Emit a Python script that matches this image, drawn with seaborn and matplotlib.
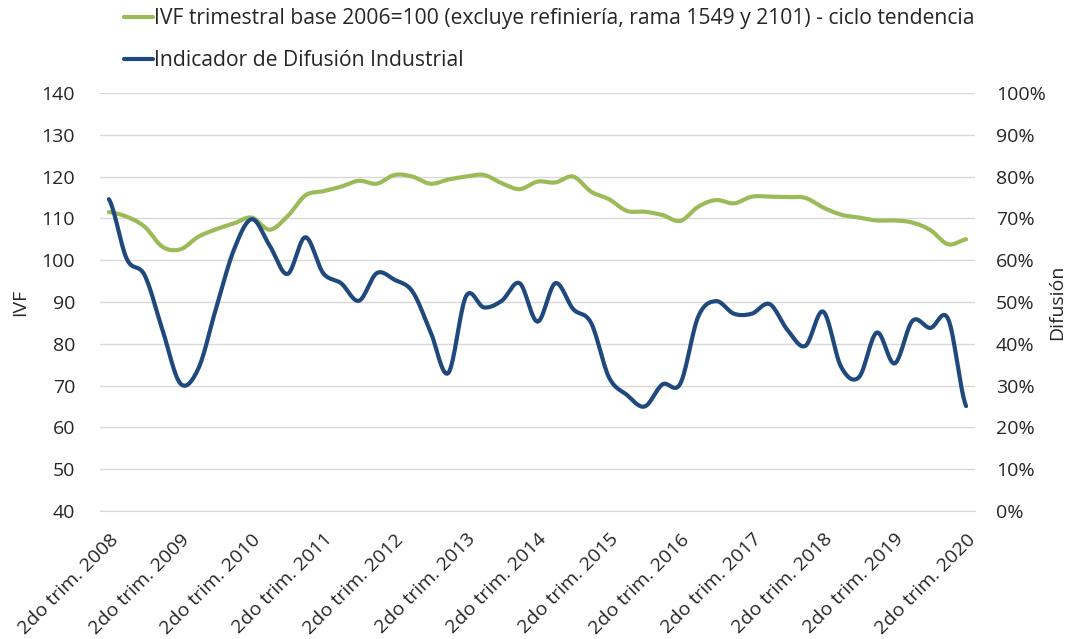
import numpy as np
import pandas as pd
import matplotlib
matplotlib.use("Agg")
import matplotlib.pyplot as plt
from matplotlib.ticker import MultipleLocator, FixedLocator, FuncFormatter
import seaborn as sns

# datos trimestrales, 2do trim. 2008 a 2do trim. 2020
anios = list(range(2008, 2021))
etiquetas = ["2do trim. %d" % a for a in anios]

ivf = [111.5, 110.4, 108.0, 103.2, 102.6, 105.6, 107.4, 108.8, 110.2, 107.3,
       110.5, 115.5, 116.5, 117.6, 119.0, 118.3, 120.4, 120.0, 118.3, 119.3,
       120.0, 120.4, 118.4, 117.0, 118.8, 118.6, 120.0, 116.4, 114.6, 111.8,
       111.6, 110.8, 109.4, 112.8, 114.4, 113.6, 115.2, 115.2, 115.1, 114.9,
       112.6, 110.9, 110.2, 109.5, 109.5, 109.0, 107.2, 103.8, 105.0]

difusion = [74.6, 60.3, 56.4, 43.3, 30.5, 34.0, 48.5, 62.5, 69.8, 63.5,
            56.7, 65.5, 56.9, 54.5, 50.3, 56.9, 55.3, 52.5, 43.0, 33.0,
            51.4, 48.7, 50.3, 54.5, 45.3, 54.5, 48.3, 45.0, 32.0, 27.8,
            25.0, 30.3, 30.5, 46.5, 50.2, 47.2, 47.2, 49.5, 43.3, 39.5,
            47.7, 34.5, 32.0, 42.7, 35.3, 45.5, 43.8, 45.9, 25.1]

nombre_ivf = "IVF trimestral base 2006=100 (excluye refiniería, rama 1549 y 2101) - ciclo tendencia"
nombre_dif = "Indicador de Difusión Industrial"

VERDE = "#9BBB59"
AZUL = "#1F497D"
GRIS = "#D9D9D9"


def suavizar(y, n=16):
    # curva suave tipo Excel (Catmull-Rom) que pasa por cada dato
    y = np.asarray(y, float)
    p = np.concatenate([[y[0]], y, [y[-1]]])
    t = np.linspace(0, 1, n, endpoint=False)
    xs, ys = [], []
    for i in range(len(y) - 1):
        p0, p1, p2, p3 = p[i], p[i + 1], p[i + 2], p[i + 3]
        seg = 0.5 * (2 * p1 + (-p0 + p2) * t + (2 * p0 - 5 * p1 + 4 * p2 - p3) * t ** 2
                     + (-p0 + 3 * p1 - 3 * p2 + p3) * t ** 3)
        xs.append(i + t)
        ys.append(seg)
    xs.append([len(y) - 1])
    ys.append([y[-1]])
    return pd.DataFrame({"x": np.concatenate(xs), "y": np.concatenate(ys)})


sns.set_style("white")
plt.rcParams["font.family"] = ["Open Sans", "DejaVu Sans"]

fig = plt.figure(figsize=(10.76, 6.39), dpi=100)
ax = fig.add_axes([100 / 1076, 1 - 511 / 639, 875 / 1076, 418 / 639])
ax2 = ax.twinx()

sns.lineplot(data=suavizar(ivf), x="x", y="y", ax=ax, color=VERDE, lw=3.0,
             label=nombre_ivf, legend=False)
sns.lineplot(data=suavizar(difusion), x="x", y="y", ax=ax2, color=AZUL, lw=3.0,
             label=nombre_dif, legend=False)

n = len(ivf)
ax.set_xlim(-0.5, n - 0.5)
ax.set_ylim(40, 140)
ax2.set_ylim(0, 100)
ax.yaxis.set_major_locator(MultipleLocator(10))
ax2.yaxis.set_major_locator(MultipleLocator(10))
ax2.yaxis.set_major_formatter(FuncFormatter(lambda v, p: "%d%%" % v))

ax.set_xticks(range(0, n, 4))
ax.set_xticklabels(etiquetas, rotation=45, ha="right", rotation_mode="anchor", fontsize=14)
ax.xaxis.set_minor_locator(FixedLocator(np.arange(-0.5, n, 1)))
ax.tick_params(axis="x", which="major", length=0, pad=14)
ax.tick_params(axis="x", which="minor", length=6, color=GRIS, width=1, direction="out")
ax.tick_params(axis="y", length=0, pad=18, labelsize=14)
ax2.tick_params(axis="y", length=0, pad=15, labelsize=14)

ax.grid(axis="y", color=GRIS, lw=1)
ax.grid(axis="x", visible=False)
ax2.grid(False)
for a in (ax, ax2):
    for s in ("top", "left", "right"):
        a.spines[s].set_visible(False)
    a.spines["bottom"].set_color(GRIS)
ax2.spines["bottom"].set_visible(False)

ax.set_xlabel("")
ax.set_ylabel("IVF", fontsize=14, labelpad=9)
ax2.set_ylabel("Difusión", fontsize=14, labelpad=2)

h1, l1 = ax.get_legend_handles_labels()
h2, l2 = ax2.get_legend_handles_labels()
fig.legend(h1 + h2, l1 + l2, loc="upper left", bbox_to_anchor=(105 / 1076, 1.017),
           frameon=False, fontsize=15.2, handlelength=1.35, handletextpad=0.08,
           labelspacing=1.0)

fig.savefig("out.png", dpi=100)
plt.close(fig)
